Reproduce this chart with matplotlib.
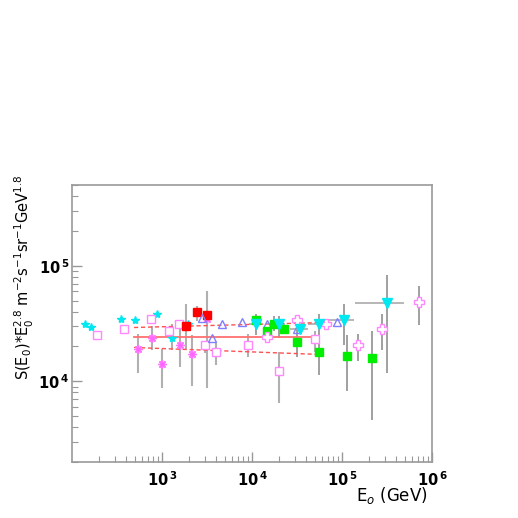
import numpy as np
import matplotlib
matplotlib.use("Agg")
import matplotlib.pyplot as plt
from matplotlib.ticker import FixedLocator, LogLocator, NullFormatter, FuncFormatter

# ---------------- data ----------------
# cyan stars
star_x = [139, 163, 350, 501, 880, 1290, 1940]
star_y = [31000, 29200, 34900, 34200, 38500, 23500, 31600]
star_lo = [np.nan, np.nan, np.nan, np.nan, np.nan, 18500, np.nan]
star_hi = [np.nan, np.nan, np.nan, np.nan, np.nan, 31600, np.nan]

# magenta open squares
sq_x = [190, 378, 755, 1200, 1550, 3000, 3980, 9030, 20000, 50100]
sq_y = [24900, 28600, 34900, 27500, 31000, 20400, 17800, 20800, 12200, 23000]
sq_lo = [np.nan, np.nan, np.nan, np.nan, np.nan, 17500, 13700, 16100, 6460, 17800]
sq_hi = [np.nan, np.nan, np.nan, np.nan, np.nan, 21700, 21700, 25400, 17800, 27500]

# magenta asterisks
ast_x = [541, 774, 1000, 1585, 2150, 3160]
ast_y = [18900, 23500, 14000, 20800, 17100, 34900]
ast_lo = [11700, 18500, 8700, 13200, 9100, np.nan]
ast_hi = [25900, 30000, 19200, 34200, 24900, np.nan]

# red filled squares
red_x = [1850, 2450, 3160]
red_y = [29800, 39400, 37800]
red_lo = [19200, 33000, 8700]
red_hi = [47000, 45000, 60800]

# blue open triangles
tri_x = [2780, 3590, 4640, 7740, 14700, 31600, 88000]
tri_y = [35600, 23500, 31000, 32900, 31600, 28600, 32900]

# green filled squares
grn_x = [11100, 14700, 17600, 22700, 31600, 55500, 113600, 215000]
grn_y = [34200, 27500, 31600, 28100, 21700, 17800, 16400, 15800]
grn_lo = [24900, np.nan, 27500, 26400, 16100, 11300, 8210, 4610]
grn_hi = [38500, np.nan, 37000, 29500, 31600, 38500, 24900, 27000]

# cyan filled down-triangles
cyt_x = [11100, 20000, 34100, 55500, 105000, 316000]
cyt_y = [31000, 31600, 28600, 31000, 34200, 48000]
cyt_lo = [np.nan, 23900, np.nan, np.nan, 20400, 11700]
cyt_hi = [np.nan, 37000, np.nan, np.nan, 47000, 83600]
cyt_xlo = [9260, 17600, 26400, 41900, 69900, 139000]
cyt_xhi = [12600, 23200, 41900, 71700, 136000, 489000]

# pink open crosses
crs_x = [14700, 31600, 66400, 150700, 278000, 718000]
crs_y = [24400, 33600, 31000, 20400, 28600, 49000]
crs_lo = [np.nan, np.nan, 28600, 14900, 18500, 30400]
crs_hi = [np.nan, np.nan, 33600, 25400, 38500, 67300]

# fit lines
fit_x = [489, 50100]
fit_y = [24400, 24400]
fit_up_x = [489, 68100]
fit_up_y = [29200, 32300]
fit_dn_x = [489, 52700]
fit_dn_y = [19600, 17100]

# ---------------- plot ----------------
fig = plt.figure(figsize=(5.18, 5.18), dpi=100)
ax = fig.add_axes([72/518, 56/518, 360/518, 277/518])
ax.set_xscale('log')
ax.set_yscale('log')
ax.set_xlim(100, 1e6)
ax.set_ylim(2000, 5e5)

def vbars(x, lo, hi, color='#b0b0b0', lw=1.5):
    x = np.asarray(x, float); lo = np.asarray(lo, float); hi = np.asarray(hi, float)
    m = ~np.isnan(lo)
    ax.vlines(x[m], lo[m], hi[m], colors=color, lw=lw, zorder=1)

vbars(star_x, star_lo, star_hi)
vbars(sq_x, sq_lo, sq_hi)
vbars(ast_x, ast_lo, ast_hi)
vbars(red_x, red_lo, red_hi)
vbars(grn_x, grn_lo, grn_hi, color='#999999', lw=1.3)
vbars(cyt_x, cyt_lo, cyt_hi, color='#999999', lw=1.3)
vbars(crs_x, crs_lo, crs_hi, color='#999999', lw=1.3)
ax.hlines(cyt_y, cyt_xlo, cyt_xhi, colors='#aaaaaa', lw=1.2, zorder=1)

ax.plot(fit_x, fit_y, color='#ff7070', lw=1.3, zorder=2)
ax.plot(fit_up_x, fit_up_y, color='#ff5050', lw=1.0, ls=(0, (3, 2)), zorder=2)
ax.plot(fit_dn_x, fit_dn_y, color='#ff5050', lw=1.0, ls=(0, (3, 2)), zorder=2)

ax.plot(star_x, star_y, ls='none', marker='*', ms=6, color='#00e8f0', mec='#00e8f0', zorder=3)
ax.plot(sq_x, sq_y, ls='none', marker='s', ms=5.5, mfc='white', mec='#ff88ff', mew=1.0, zorder=3)
ax.plot(ast_x, ast_y, ls='none', marker=(8, 2, 0), ms=6, color='#ff77ff', mew=1.0, zorder=3)
ax.plot(ast_x, ast_y, ls='none', marker='o', ms=1.8, color='#ff66ff', zorder=3)
ax.plot(red_x, red_y, ls='none', marker='s', ms=5.5, color='#ff0000', zorder=3)
ax.plot(tri_x, tri_y, ls='none', marker='^', ms=6, mfc='none', mec='#8080ff', mew=1.0, zorder=3)
ax.plot(grn_x, grn_y, ls='none', marker='s', ms=5.5, color='#00ee00', zorder=3)
ax.plot(cyt_x, cyt_y, ls='none', marker='v', ms=7, color='#00e8f0', zorder=4)
ax.plot(crs_x, crs_y, ls='none', marker='P', ms=6.5, mfc='white', mec='#ff88ff', mew=1.0, zorder=3)

for s in ax.spines.values():
    s.set_color('#999999')
    s.set_linewidth(1.2)

ax.xaxis.set_major_locator(FixedLocator([1e3, 1e4, 1e5, 1e6]))
ax.yaxis.set_major_locator(FixedLocator([1e4, 1e5]))
ax.xaxis.set_minor_locator(LogLocator(base=10, subs=np.arange(2, 10)))
ax.yaxis.set_minor_locator(LogLocator(base=10, subs=np.arange(2, 10)))
ax.xaxis.set_minor_formatter(NullFormatter())
ax.yaxis.set_minor_formatter(NullFormatter())
fmt = FuncFormatter(lambda v, p: r'$\mathbf{10}^{\,\mathbf{%d}}$' % int(round(np.log10(v))))
ax.xaxis.set_major_formatter(fmt)
ax.yaxis.set_major_formatter(fmt)
ax.tick_params(which='both', direction='in', top=False, right=False, color='#999999')
ax.tick_params(which='major', length=7, width=1.0, labelsize=10.5)
ax.tick_params(axis='x', which='major', pad=6)
ax.tick_params(axis='y', which='major', pad=2)
ax.tick_params(which='minor', length=4, width=0.8)

fig.text(0.048, 0.465, r'S(E$_0$)*E$_0^{2.8}$ m$^{-2}$s$^{-1}$sr$^{-1}$GeV$^{1.8}$',
         rotation=90, ha='center', va='center', fontsize=10.5)
fig.text(0.757, 0.044, r'E$_o$ (GeV)', ha='center', va='center', fontsize=12)

fig.savefig('out.png', dpi=100)
